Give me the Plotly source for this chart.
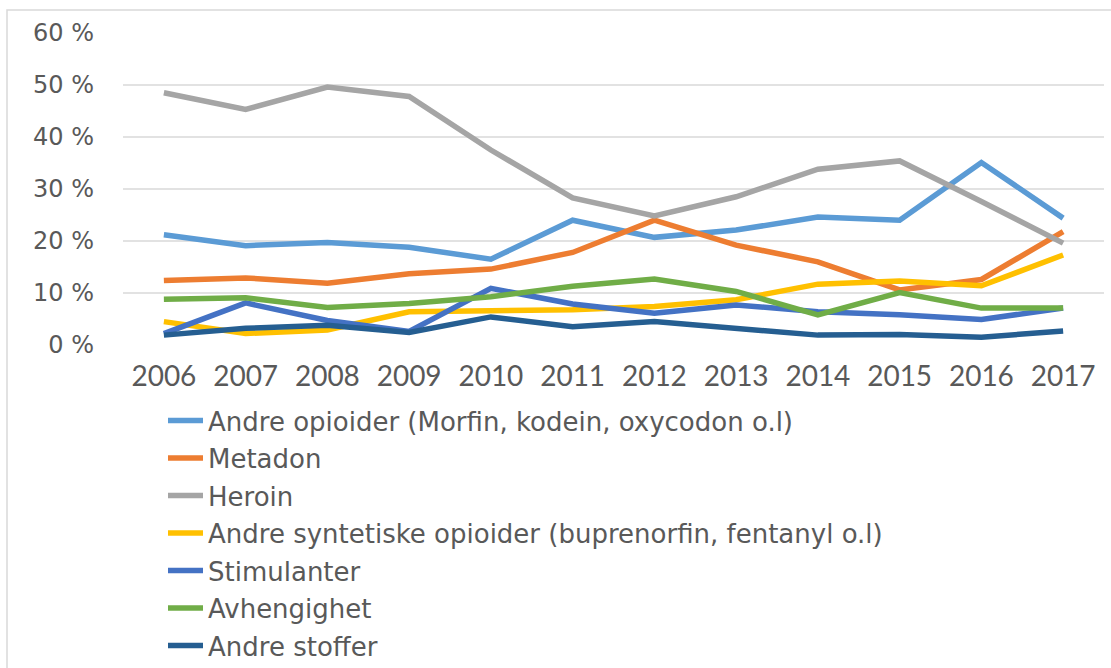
import plotly.graph_objects as go

years = ["2006", "2007", "2008", "2009", "2010", "2011", "2012", "2013", "2014", "2015", "2016", "2017"]

andre_opioider = [21.2, 19.1, 19.7, 18.8, 16.5, 24.0, 20.7, 22.1, 24.6, 24.0, 35.1, 24.4]
metadon = [12.4, 12.9, 11.9, 13.7, 14.6, 17.8, 24.0, 19.2, 16.0, 10.6, 12.6, 21.8]
heroin = [48.5, 45.3, 49.6, 47.8, 37.5, 28.3, 24.8, 28.5, 33.8, 35.4, 27.6, 19.6]
andre_syntetiske = [4.5, 2.2, 2.9, 6.4, 6.6, 6.8, 7.4, 8.7, 11.7, 12.3, 11.4, 17.3]
stimulanter = [2.2, 8.1, 4.7, 2.6, 10.9, 7.9, 6.1, 7.7, 6.4, 5.8, 4.9, 7.1]
avhengighet = [8.8, 9.1, 7.2, 8.0, 9.3, 11.3, 12.7, 10.3, 5.8, 10.1, 7.1, 7.1]
andre_stoffer = [1.9, 3.2, 3.8, 2.4, 5.4, 3.5, 4.5, 3.2, 1.9, 2.0, 1.5, 2.7]

series_names = [
    "Andre opioider (Morfin, kodein, oxycodon o.l)",
    "Metadon",
    "Heroin",
    "Andre syntetiske opioider (buprenorfin, fentanyl o.l)",
    "Stimulanter",
    "Avhengighet",
    "Andre stoffer",
]
series_values = [andre_opioider, metadon, heroin, andre_syntetiske, stimulanter, avhengighet, andre_stoffer]
colors = ["#5B9BD5", "#ED7D31", "#A5A5A5", "#FFC000", "#4472C4", "#70AD47", "#255E91"]

y_ticks = [0, 10, 20, 30, 40, 50, 60]
y_ticktext = ["0 %", "10 %", "20 %", "30 %", "40 %", "50 %", "60 %"]

W, H = 1111, 668
L, R, T, B = 123, 1104, 33, 345

fig = go.Figure()
for name, vals, c in zip(series_names, series_values, colors):
    fig.add_trace(go.Scatter(
        x=years, y=vals, name=name, mode="lines",
        line=dict(color=c, width=5.5),
        legendgroup=name,
    ))

def px_x(p):
    return (p - L) / (R - L)

def px_y(p):
    return (B - p) / (B - T)

fig.update_layout(
    width=W, height=H,
    margin=dict(l=L, r=W - R, t=T, b=H - B, pad=0, autoexpand=False),
    paper_bgcolor="white", plot_bgcolor="white",
    showlegend=True,
    legend=dict(
        x=px_x(163), y=px_y(397), xanchor="left", yanchor="top",
        font=dict(family="DejaVu Sans", size=26, color="#595959"),
        tracegroupgap=0.7, bgcolor="rgba(0,0,0,0)", itemwidth=35,
        itemclick=False,
    ),
    xaxis=dict(
        type="category", range=[-0.5, 11.5],
        showgrid=False, showline=False, zeroline=False,
        tickfont=dict(family="Lato", size=28, color="#595959"),
        ticks="", ticklabelstandoff=12,
    ),
    yaxis=dict(
        range=[0, 60], tickvals=y_ticks, ticktext=y_ticktext,
        showgrid=True, gridcolor="#E2E2E2", gridwidth=2,
        zeroline=False, showline=False,
        tickfont=dict(family="DejaVu Sans", size=24, color="#595959"),
        ticks="", ticklabelstandoff=28,
    ),
    shapes=[dict(
        type="rect", xref="paper", yref="paper",
        x0=px_x(7), x1=px_x(1140), y0=px_y(700), y1=px_y(10),
        line=dict(color="#D9D9D9", width=1.5), fillcolor="rgba(0,0,0,0)",
        layer="below",
    )],
)

fig.write_html(
    "out.html",
    config={"displayModeBar": False},
    post_script="document.body.style.margin='0';document.body.style.overflow='hidden';",
)
